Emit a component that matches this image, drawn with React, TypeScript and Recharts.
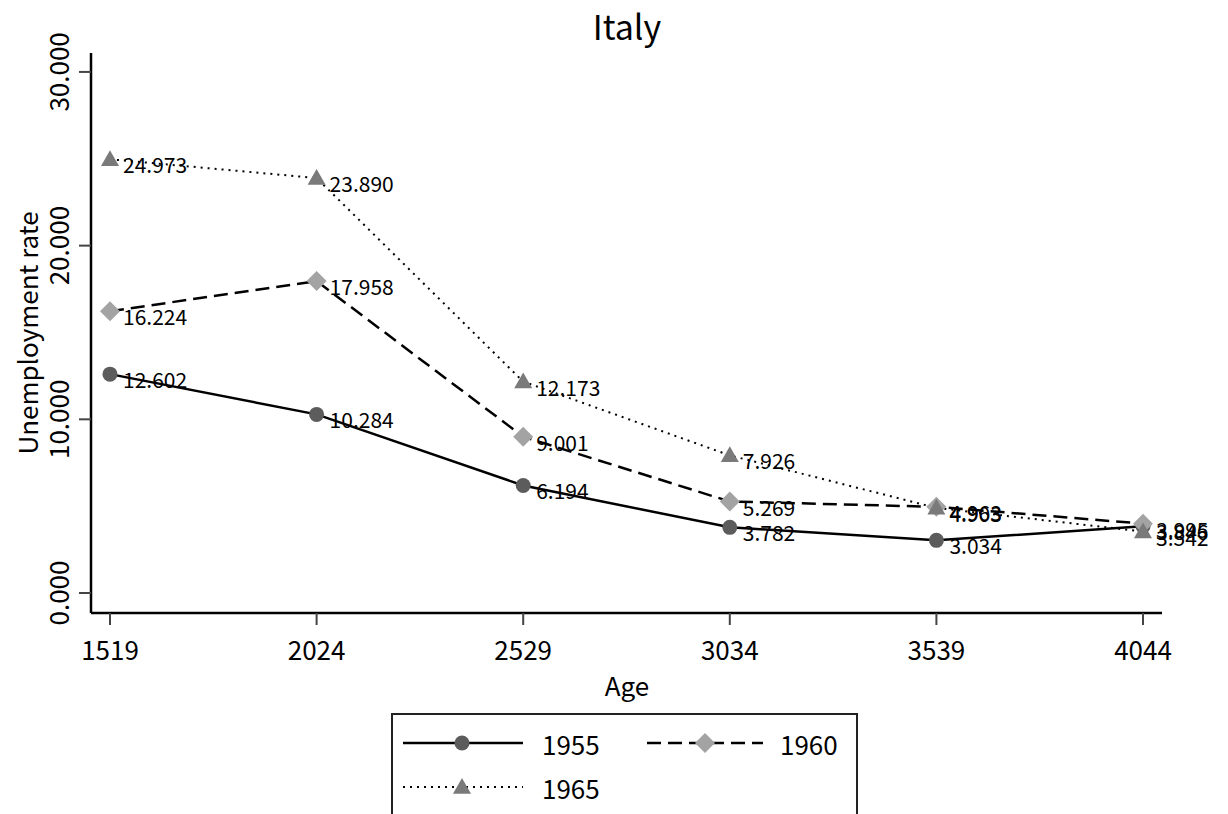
import React from 'react';
import { LabelList, Line, LineChart, XAxis, YAxis } from 'recharts';

const ages = ['1519', '2024', '2529', '3034', '3539', '4044'];
const rate1955 = [12.602, 10.284, 6.194, 3.782, 3.034, 3.846];
const rate1960 = [16.224, 17.958, 9.001, 5.269, 4.963, 3.995];
const rate1965 = [24.973, 23.89, 12.173, 7.926, 4.903, 3.542];
const yTicks = [0, 10, 20, 30];

const data = ages.map((age, i) => ({
  age,
  s1955: rate1955[i],
  s1960: rate1960[i],
  s1965: rate1965[i],
}));

const FONT = "'Noto Sans CJK JP', 'Noto Sans', sans-serif";
const C_CIRCLE = '#5c5c5c';
const C_DIAMOND = '#a3a3a3';
const C_TRIANGLE = '#7a7a7a';

const diamondPath = (cx: number, cy: number, s = 10) =>
  `M${cx},${cy - s}L${cx + s},${cy}L${cx},${cy + s}L${cx - s},${cy}Z`;
const trianglePath = (cx: number, cy: number, s = 9) =>
  `M${cx},${cy - s}L${cx + s},${cy + s * 0.75}L${cx - s},${cy + s * 0.75}Z`;

const CircleDot = (p: any) =>
  p.cx == null ? null : <circle key={p.index} cx={p.cx} cy={p.cy} r={7.5} fill={C_CIRCLE} />;
const DiamondDot = (p: any) =>
  p.cx == null ? null : <path key={p.index} d={diamondPath(p.cx, p.cy)} fill={C_DIAMOND} />;
const TriangleDot = (p: any) =>
  p.cx == null ? null : <path key={p.index} d={trianglePath(p.cx, p.cy)} fill={C_TRIANGLE} />;

const valueLabel = (p: any) => (
  <text
    x={p.x + 13}
    y={p.y + 5}
    fontSize={21}
    fontFamily={FONT}
    fill="#000"
    dominantBaseline="central"
  >
    {Number(p.value).toFixed(3)}
  </text>
);

const YTick = (p: any) => (
  <text
    transform={`translate(${p.x - 20},${p.y}) rotate(-90)`}
    textAnchor="middle"
    dominantBaseline="central"
    fontSize={26}
    fontFamily={FONT}
    fill="#000"
  >
    {Number(p.payload.value).toFixed(3)}
  </text>
);

const XTick = (p: any) => (
  <text
    x={p.x}
    y={p.y + 21}
    textAnchor="middle"
    dominantBaseline="central"
    fontSize={26}
    fontFamily={FONT}
    fill="#000"
  >
    {p.payload.value}
  </text>
);

export default function App() {
  return (
    <div style={{ position: 'absolute', left: 0, top: 0, width: 1228, height: 814, overflow: 'hidden', background: '#fff' }}>
      <LineChart width={1228} height={814} data={data} margin={{ top: 53, right: 66, left: 0, bottom: 121 }}>
        <XAxis
          dataKey="age"
          height={80}
          padding={{ left: 19, right: 19 }}
          axisLine={{ stroke: '#000', strokeWidth: 2.5 }}
          tickLine={{ stroke: '#444', strokeWidth: 2 }}
          tickSize={12}
          tick={<XTick />}
          interval={0}
          label={{
            content: () => (
              <text x={627} y={684} textAnchor="middle" dominantBaseline="central" fontSize={26} fontFamily={FONT} fill="#000">
                Age
              </text>
            ),
          }}
        />
        <XAxis
          xAxisId="top"
          dataKey="age"
          orientation="top"
          height={0}
          padding={{ left: 19, right: 19 }}
          tick={false}
          tickLine={false}
          axisLine={{ stroke: '#000', strokeWidth: 2.5 }}
        />
        <YAxis
          width={91}
          domain={[-1.15, 31.09]}
          ticks={yTicks}
          axisLine={{ stroke: '#000', strokeWidth: 2.5 }}
          tickLine={{ stroke: '#444', strokeWidth: 2 }}
          tickSize={12}
          tick={<YTick />}
          label={{
            content: () => (
              <text
                transform="translate(26,333) rotate(-90)"
                textAnchor="middle"
                dominantBaseline="central"
                fontSize={26}
                fontFamily={FONT}
                fill="#000"
              >
                Unemployment rate
              </text>
            ),
          }}
        />
        <YAxis
          yAxisId="right"
          orientation="right"
          width={0}
          domain={[-1.15, 31.09]}
          tick={false}
          tickLine={false}
          axisLine={{ stroke: '#000', strokeWidth: 2.5 }}
        />
        <Line
          dataKey="s1955"
          stroke="#000"
          strokeWidth={2.5}
          dot={<CircleDot />}
          activeDot={false}
          isAnimationActive={false}
        >
          <LabelList dataKey="s1955" content={valueLabel} />
        </Line>
        <Line
          dataKey="s1960"
          stroke="#000"
          strokeWidth={2.5}
          strokeDasharray="14 7"
          dot={<DiamondDot />}
          activeDot={false}
          isAnimationActive={false}
        >
          <LabelList dataKey="s1960" content={valueLabel} />
        </Line>
        <Line
          dataKey="s1965"
          stroke="#000"
          strokeWidth={2}
          strokeDasharray="2 5"
          dot={<TriangleDot />}
          activeDot={false}
          isAnimationActive={false}
        >
          <LabelList dataKey="s1965" content={valueLabel} />
        </Line>
      </LineChart>

      <svg width={1228} height={814} style={{ position: 'absolute', left: 0, top: 0, pointerEvents: 'none' }}>
        <text x={627} y={40} textAnchor="middle" fontSize={34} fontFamily={FONT} fill="#000">
          Italy
        </text>
        <g transform="translate(392,714)">
          <rect x={0} y={0} width={465} height={120} fill="#fff" stroke="#222" strokeWidth={2} />
          <line x1={11} y1={29} x2={131} y2={29} stroke="#000" strokeWidth={2.5} />
          <circle cx={70} cy={29} r={7.5} fill={C_CIRCLE} />
          <text x={150} y={29} dominantBaseline="central" fontSize={26} fontFamily={FONT}>1955</text>
          <line x1={255} y1={29} x2={371} y2={29} stroke="#000" strokeWidth={2.5} strokeDasharray="14 7" />
          <path d={diamondPath(313, 29)} fill={C_DIAMOND} />
          <text x={388} y={29} dominantBaseline="central" fontSize={26} fontFamily={FONT}>1960</text>
          <line x1={11} y1={73} x2={131} y2={73} stroke="#000" strokeWidth={2} strokeDasharray="2 5" />
          <path d={trianglePath(70, 73)} fill={C_TRIANGLE} />
          <text x={150} y={73} dominantBaseline="central" fontSize={26} fontFamily={FONT}>1965</text>
        </g>
      </svg>
    </div>
  );
}
